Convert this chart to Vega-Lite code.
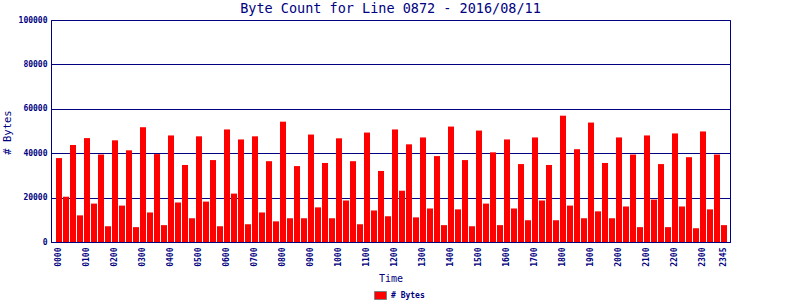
{
  "$schema": "https://vega.github.io/schema/vega-lite/v6.json",
  "width": 679,
  "height": 222,
  "autosize": {"type": "none"},
  "padding": {"left": 51, "top": 20, "right": 70, "bottom": 58},
  "background": "#ffffff",
  "title": {
    "text": "Byte Count for Line 0872 - 2016/08/11",
    "anchor": "middle",
    "frame": "group",
    "font": "DejaVu Sans Mono",
    "fontSize": 13.5,
    "fontWeight": "normal",
    "color": "#000080",
    "baseline": "alphabetic",
    "offset": -10
  },
  "config": {
    "view": {"stroke": "#000080", "strokeWidth": 1},
    "axis": {
      "domainColor": "#000080",
      "gridColor": "#000080",
      "gridOpacity": 1,
      "labelColor": "#000080",
      "titleColor": "#000080",
      "labelFont": "DejaVu Sans Mono",
      "titleFont": "DejaVu Sans Mono",
      "ticks": false
    }
  },
  "data": {
    "values": [
      {"t": "0000", "b": 37800}, {"t": "0015", "b": 20400}, {"t": "0030", "b": 43700}, {"t": "0045", "b": 12000},
      {"t": "0100", "b": 46800}, {"t": "0115", "b": 17300}, {"t": "0130", "b": 39400}, {"t": "0145", "b": 7100},
      {"t": "0200", "b": 45800}, {"t": "0215", "b": 16400}, {"t": "0230", "b": 41300}, {"t": "0245", "b": 6700},
      {"t": "0300", "b": 51700}, {"t": "0315", "b": 13300}, {"t": "0330", "b": 39600}, {"t": "0345", "b": 7600},
      {"t": "0400", "b": 48000}, {"t": "0415", "b": 17800}, {"t": "0430", "b": 34700}, {"t": "0445", "b": 10700},
      {"t": "0500", "b": 47600}, {"t": "0515", "b": 18200}, {"t": "0530", "b": 36900}, {"t": "0545", "b": 7100},
      {"t": "0600", "b": 50700}, {"t": "0615", "b": 21800}, {"t": "0630", "b": 46200}, {"t": "0645", "b": 8000},
      {"t": "0700", "b": 47600}, {"t": "0715", "b": 13300}, {"t": "0730", "b": 36400}, {"t": "0745", "b": 9300},
      {"t": "0800", "b": 54200}, {"t": "0815", "b": 10700}, {"t": "0830", "b": 34200}, {"t": "0845", "b": 10700},
      {"t": "0900", "b": 48400}, {"t": "0915", "b": 15600}, {"t": "0930", "b": 35600}, {"t": "0945", "b": 10700},
      {"t": "1000", "b": 46700}, {"t": "1015", "b": 18700}, {"t": "1030", "b": 36400}, {"t": "1045", "b": 8000},
      {"t": "1100", "b": 49300}, {"t": "1115", "b": 14200}, {"t": "1130", "b": 32000}, {"t": "1145", "b": 11600},
      {"t": "1200", "b": 50700}, {"t": "1215", "b": 23100}, {"t": "1230", "b": 44000}, {"t": "1245", "b": 11100},
      {"t": "1300", "b": 47100}, {"t": "1315", "b": 15100}, {"t": "1330", "b": 38700}, {"t": "1345", "b": 7600},
      {"t": "1400", "b": 52000}, {"t": "1415", "b": 14700}, {"t": "1430", "b": 36900}, {"t": "1445", "b": 7100},
      {"t": "1500", "b": 50200}, {"t": "1515", "b": 17300}, {"t": "1530", "b": 40400}, {"t": "1545", "b": 7600},
      {"t": "1600", "b": 46200}, {"t": "1615", "b": 15100}, {"t": "1630", "b": 35100}, {"t": "1645", "b": 9800},
      {"t": "1700", "b": 47100}, {"t": "1715", "b": 18700}, {"t": "1730", "b": 34700}, {"t": "1745", "b": 9800},
      {"t": "1800", "b": 56900}, {"t": "1815", "b": 16400}, {"t": "1830", "b": 41800}, {"t": "1845", "b": 10700},
      {"t": "1900", "b": 53800}, {"t": "1915", "b": 13800}, {"t": "1930", "b": 35600}, {"t": "1945", "b": 10700},
      {"t": "2000", "b": 47100}, {"t": "2015", "b": 16000}, {"t": "2030", "b": 39400}, {"t": "2045", "b": 6700},
      {"t": "2100", "b": 48000}, {"t": "2115", "b": 19100}, {"t": "2130", "b": 35100}, {"t": "2145", "b": 6700},
      {"t": "2200", "b": 48900}, {"t": "2215", "b": 16000}, {"t": "2230", "b": 38200}, {"t": "2245", "b": 6200},
      {"t": "2300", "b": 49800}, {"t": "2315", "b": 14700}, {"t": "2330", "b": 39400}, {"t": "2345", "b": 7600}
    ]
  },
  "mark": {"type": "bar"},
  "encoding": {
    "x": {
      "field": "t",
      "type": "ordinal",
      "sort": null,
      "scale": {"paddingInner": 0.142857, "paddingOuter": 0.571, "align": 0.625},
      "axis": {
        "title": "Time",
        "titleFontSize": 10,
        "titleFontWeight": "normal",
        "titleY": 36,
        "titleBaseline": "middle",
        "labelAngle": 270,
        "labelFontSize": 8,
        "labelFontWeight": "bold",
        "labelPadding": 5,
        "labelExpr": "substring(datum.label, 2, 4) == '00' || datum.label == '2345' ? datum.label : ''"
      }
    },
    "y": {
      "field": "b",
      "type": "quantitative",
      "scale": {"domain": [0, 100000], "nice": false},
      "axis": {
        "title": "# Bytes",
        "values": [0, 20000, 40000, 60000, 80000, 100000],
        "format": "d",
        "labelFontSize": 8,
        "labelFontWeight": "bold",
        "labelPadding": 4,
        "titleFontSize": 10.5,
        "titleFontWeight": "normal",
        "titleAngle": 270,
        "titleAlign": "center",
        "titleBaseline": "middle",
        "titleX": -44,
        "titleY": 112
      }
    },
    "color": {
      "datum": "# Bytes",
      "type": "nominal",
      "scale": {"range": ["#ff0000"]},
      "legend": {
        "title": null,
        "orient": "none",
        "legendX": 323,
        "legendY": 269,
        "padding": 0,
        "symbolType": "M-1,-0.667H1V0.667H-1Z",
        "symbolSize": 144,
        "symbolStrokeColor": "#808080",
        "symbolStrokeWidth": 1,
        "symbolOpacity": 1,
        "labelFont": "DejaVu Sans Mono",
        "labelFontSize": 8,
        "labelFontWeight": "bold",
        "labelColor": "#000080",
        "labelOffset": 4
      }
    }
  }
}
